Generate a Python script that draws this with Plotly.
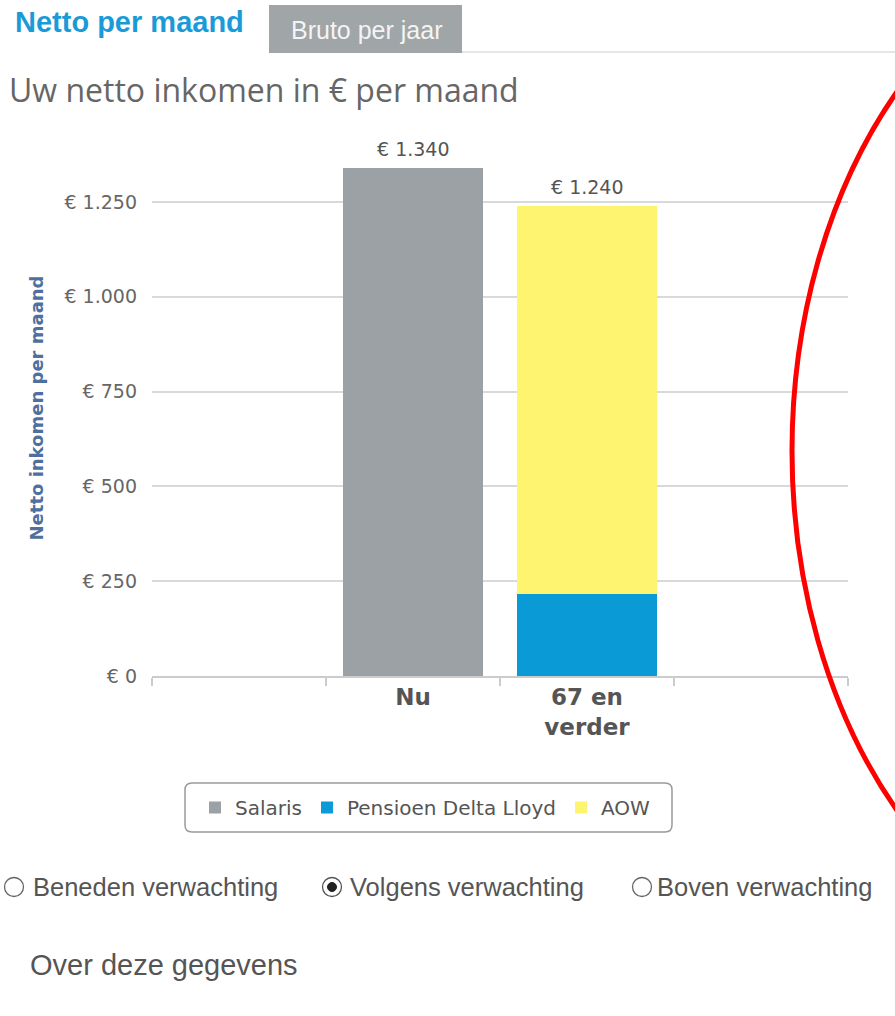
import plotly.graph_objects as go

# ---- data ----
categories = [" ", "Nu", "67 en<br>verder", "  "]
salaris = [None, 1340, None, None]
pensioen = [None, None, 215, None]
aow = [None, None, 1025, None]
series_names = ["Salaris", "Pensioen Delta Lloyd", "AOW"]
series_colors = ["#9ba1a4", "#0a9bd6", "#fff46f"]
y_ticks = [0, 250, 500, 750, 1000, 1250]


def euro(v):
    return "€ " + f"{v:,}".replace(",", ".")


W, H = 895, 1016
L, R, T, B = 152, 848, 140, 676
y_per_unit = (676 - 202) / 1250
y_max = (B - T) / y_per_unit


def px(x):
    return (x - L) / (R - L)


def py(y):
    return (B - y) / (B - T)


fig = go.Figure()
for name, vals, col in zip(series_names, [salaris, pensioen, aow], series_colors):
    fig.add_trace(go.Bar(x=categories, y=vals, name=name, marker_color=col,
                         marker_line_width=0, hoverinfo="skip"))

# stack totals as data labels
totals = []
for i in range(len(categories)):
    s = sum(v[i] for v in [salaris, pensioen, aow] if v[i] is not None)
    totals.append(s)

annotations = []
for c, t in zip(categories, totals):
    if t:
        annotations.append(dict(x=c, y=t, xref="x", yref="y", text=euro(t),
                                showarrow=False, yanchor="bottom", yshift=6,
                                font=dict(family="DejaVu Sans", size=19, color="#555555")))

tickfont = dict(family="DejaVu Sans", size=19, color="#666666")

# page UI texts
annotations += [
    dict(x=px(13), y=py(22), xref="paper", yref="paper", text="<b>Netto per maand</b>",
         showarrow=False, xanchor="left", yanchor="middle",
         font=dict(family="Liberation Sans", size=29, color="#1a9bd7")),
    dict(x=px(366), y=py(30), xref="paper", yref="paper", text="Bruto per jaar",
         showarrow=False, xanchor="center", yanchor="middle",
         font=dict(family="Liberation Sans", size=25, color="#f4f4f4")),
    dict(x=px(7), y=py(90), xref="paper", yref="paper", text="Uw netto inkomen in € per maand",
         showarrow=False, xanchor="left", yanchor="middle",
         font=dict(family="Open Sans", size=32, color="#666666")),
    dict(x=px(31), y=py(887), xref="paper", yref="paper", text="Beneden verwachting",
         showarrow=False, xanchor="left", yanchor="middle",
         font=dict(family="Liberation Sans", size=25.5, color="#555555")),
    dict(x=px(348), y=py(887), xref="paper", yref="paper", text="Volgens verwachting",
         showarrow=False, xanchor="left", yanchor="middle",
         font=dict(family="Liberation Sans", size=25.5, color="#555555")),
    dict(x=px(655), y=py(887), xref="paper", yref="paper", text="Boven verwachting",
         showarrow=False, xanchor="left", yanchor="middle",
         font=dict(family="Liberation Sans", size=25.5, color="#555555")),
    dict(x=px(28), y=py(965), xref="paper", yref="paper", text="Over deze gegevens",
         showarrow=False, xanchor="left", yanchor="middle",
         font=dict(family="Liberation Sans", size=29, color="#555555")),
]


def circ(cx, cy, r, **kw):
    return dict(type="circle", xref="paper", yref="paper",
                x0=px(cx - r), x1=px(cx + r), y0=py(cy + r), y1=py(cy - r), **kw)


def rounded(x0, y0, x1, y1, r):
    X = lambda v: px(v)
    Y = lambda v: py(v)
    pts = (f"M {X(x0 + r)} {Y(y0)} L {X(x1 - r)} {Y(y0)} "
           f"Q {X(x1)} {Y(y0)} {X(x1)} {Y(y0 + r)} L {X(x1)} {Y(y1 - r)} "
           f"Q {X(x1)} {Y(y1)} {X(x1 - r)} {Y(y1)} L {X(x0 + r)} {Y(y1)} "
           f"Q {X(x0)} {Y(y1)} {X(x0)} {Y(y1 - r)} L {X(x0)} {Y(y0 + r)} "
           f"Q {X(x0)} {Y(y0)} {X(x0 + r)} {Y(y0)} Z")
    return dict(type="path", xref="paper", yref="paper", path=pts,
                line=dict(color="#9a9a9a", width=1.5), layer="above")


shapes = [
    dict(type="rect", xref="paper", yref="paper", x0=px(269), x1=px(462), y0=py(53), y1=py(5),
         fillcolor="#a0a5a8", line_width=0, layer="below"),
    dict(type="line", xref="paper", yref="paper", x0=px(462), x1=px(895), y0=py(52), y1=py(52),
         line=dict(color="#dddddd", width=1.5)),
    rounded(185, 783, 672, 832, 7),
    circ(14, 887, 9.5, line=dict(color="#666666", width=1.3)),
    circ(332, 887, 9.5, line=dict(color="#555555", width=1.3)),
    circ(332, 887, 4.5, line=dict(color="#222222", width=1), fillcolor="#222222"),
    circ(642, 887, 9.5, line=dict(color="#666666", width=1.3)),
    dict(type="circle", xref="paper", yref="paper", x0=px(792), x1=px(1532),
         y0=py(966), y1=py(-64), line=dict(color="#ff0000", width=5), layer="above"),
]

fig.update_layout(
    width=W, height=H,
    margin=dict(l=L, r=W - R, t=T, b=H - B, autoexpand=False),
    paper_bgcolor="white", plot_bgcolor="white",
    barmode="stack", bargap=0.2,
    showlegend=True,
    legend=dict(orientation="h", x=px(195), y=py(807.5), xanchor="left", yanchor="middle",
                font=dict(family="DejaVu Sans", size=20, color="#555555"),
                bgcolor="rgba(0,0,0,0)", borderwidth=0, itemclick=False,
                itemdoubleclick=False, traceorder="normal"),
    annotations=annotations,
    shapes=shapes,
    xaxis=dict(type="category", categoryorder="array", categoryarray=categories,
               range=[-0.5, len(categories) - 0.5], tickson="boundaries",
               ticks="outside", ticklen=8, tickcolor="#cccccc", tickwidth=1.5,
               showline=True, linecolor="#cccccc", linewidth=1.5, showgrid=False,
               tickfont=dict(family="DejaVu Sans", size=23, color="#555555", weight="bold"),
               fixedrange=True),
    yaxis=dict(range=[0, y_max], tickvals=y_ticks, ticktext=[euro(v) for v in y_ticks],
               showgrid=True, gridcolor="#d9d9d9", gridwidth=1.5, zeroline=False,
               ticks="", ticklabelstandoff=14, tickfont=tickfont,
               title=dict(text="<b>Netto inkomen per maand</b>", standoff=16,
                          font=dict(family="DejaVu Sans", size=18, color="#4f6f9f")),
               fixedrange=True),
)

fig.write_html("out.html", config={"displayModeBar": False},
               post_script="document.body.style.margin='0';")
